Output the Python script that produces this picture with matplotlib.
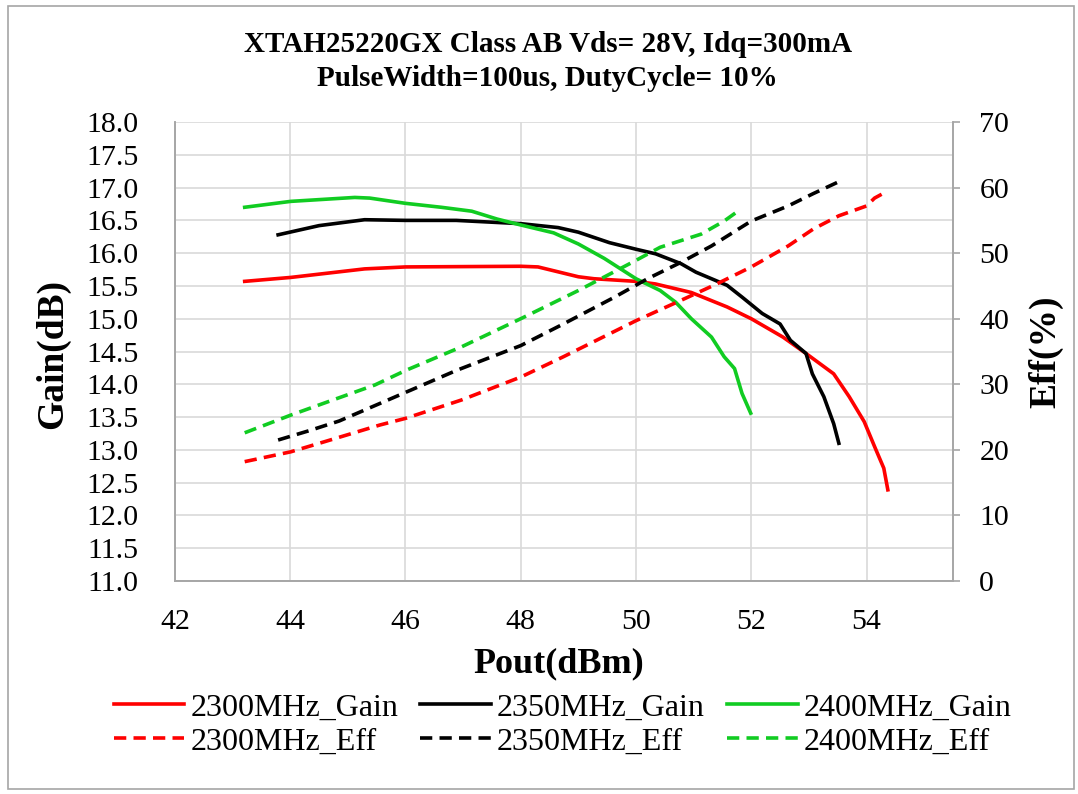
import matplotlib
matplotlib.use("Agg")
import matplotlib.pyplot as plt
from matplotlib.patches import Rectangle
import numpy as np

plt.rcParams['font.family'] = ['Liberation Serif', 'DejaVu Serif']

# gain curves (Pout dBm, Gain dB)
pout_2300_gain = [43.21, 44.01, 45.29, 46.0, 48.0, 48.3, 49.0, 49.27, 50.0, 50.34, 50.96, 51.58,
                  52.0, 52.55, 52.95, 53.43, 53.7, 53.96, 54.14, 54.30, 54.37]
gain_2300 = [15.57, 15.63, 15.76, 15.79, 15.80, 15.79, 15.64, 15.61, 15.57, 15.53, 15.40, 15.18,
             15.0, 14.72, 14.47, 14.16, 13.81, 13.43, 13.05, 12.72, 12.39]

pout_2350_gain = [43.79, 44.5, 45.29, 46.0, 46.88, 48.0, 48.65, 49.0, 49.54, 50.0, 50.34, 50.78,
                  51.04, 51.58, 51.84, 52.19, 52.5, 52.68, 52.95, 53.06, 53.26, 53.43, 53.52]
gain_2350 = [16.28, 16.42, 16.51, 16.50, 16.50, 16.45, 16.39, 16.32, 16.16, 16.06, 15.99, 15.84,
             15.71, 15.51, 15.33, 15.08, 14.92, 14.67, 14.47, 14.16, 13.81, 13.40, 13.10]

pout_2400_gain = [43.21, 44.01, 45.12, 45.38, 46.0, 46.62, 47.15, 47.59, 48.0, 48.57, 49.0, 49.45,
                  50.0, 50.42, 50.69, 50.96, 51.31, 51.53, 51.71, 51.84, 51.99]
gain_2400 = [16.70, 16.79, 16.85, 16.84, 16.76, 16.70, 16.64, 16.52, 16.43, 16.31, 16.14, 15.92,
             15.61, 15.43, 15.25, 15.0, 14.72, 14.42, 14.24, 13.86, 13.56]

# efficiency curves (Pout dBm, Eff %)
pout_2300_eff = [43.21, 44.01, 44.58, 45.56, 46.0, 46.97, 48.0, 48.74, 50.0, 50.78, 51.4, 52.0,
                 52.64, 53.08, 53.52, 54.0, 54.14, 54.37]
eff_2300 = [18.2, 19.7, 21.2, 23.8, 24.8, 27.6, 31.1, 34.2, 39.7, 42.8, 45.3, 47.9,
            51.1, 53.7, 55.7, 57.2, 58.4, 59.5]

pout_2350_eff = [43.79, 44.32, 44.85, 46.09, 46.88, 48.0, 48.74, 49.63, 50.2, 50.78, 51.31, 52.0,
                 52.64, 53.08, 53.52]
eff_2350 = [21.5, 22.9, 24.4, 29.1, 32.1, 35.9, 39.2, 43.3, 46.1, 48.6, 51.1, 54.9,
            57.2, 59.1, 60.9]

pout_2400_eff = [43.21, 44.01, 44.58, 45.47, 46.0, 46.97, 48.0, 49.0, 50.0, 50.42, 51.13, 51.53, 51.8]
eff_2400 = [22.6, 25.3, 27.1, 29.9, 32.1, 35.7, 40.0, 44.3, 48.9, 50.9, 52.9, 54.9, 56.6]

title1 = "XTAH25220GX Class AB Vds= 28V, Idq=300mA"
title2 = "PulseWidth=100us, DutyCycle= 10%"
red, black, green = '#ff0000', '#000000', '#11cc22'

fig = plt.figure(figsize=(10.78, 7.94), dpi=100)
ax = fig.add_axes([0.1623, 0.2683, 0.884 - 0.1623, 0.8463 - 0.2683])
ax2 = ax.twinx()

lw = 2.6
dash = (3.4, 2.0)
l1, = ax.plot(pout_2300_gain, gain_2300, color=red, lw=lw, label='2300MHz_Gain')
l2, = ax.plot(pout_2350_gain, gain_2350, color=black, lw=lw, label='2350MHz_Gain')
l3, = ax.plot(pout_2400_gain, gain_2400, color=green, lw=lw, label='2400MHz_Gain')
e1, = ax2.plot(pout_2300_eff, eff_2300, color=red, lw=lw, dashes=dash, label='2300MHz_Eff')
e2, = ax2.plot(pout_2350_eff, eff_2350, color=black, lw=lw, dashes=dash, label='2350MHz_Eff')
e3, = ax2.plot(pout_2400_eff, eff_2400, color=green, lw=lw, dashes=dash, label='2400MHz_Eff')

ax.set_xlim(42, 55.5)
ax.set_ylim(11, 18)
ax2.set_ylim(0, 70)
ax.set_xticks(np.arange(42, 55, 2))
ax.set_yticks(np.arange(11, 18.01, 0.5))
ax.set_yticklabels(["%.1f" % v for v in np.arange(11, 18.01, 0.5)])
ax2.set_yticks(np.arange(0, 71, 10))

ax.grid(True, color='#d9d9d9', lw=1.2)
ax.set_axisbelow(True)
for a in (ax, ax2):
    for s in a.spines.values():
        s.set_color('#a6a6a6')
        s.set_linewidth(1.2)
    a.spines['top'].set_visible(False)
ax.tick_params(axis='y', length=0, labelsize=21.5, pad=26)
ax.tick_params(axis='x', length=0, labelsize=21.5, pad=20)
ax2.tick_params(axis='y', length=5, width=1.2, color='#a6a6a6', labelsize=21.5, pad=14)

ax.set_xlabel("Pout(dBm)", fontsize=26, fontweight='bold', va='center')
ax.xaxis.set_label_coords(0.493, -0.181)
ax.set_ylabel("Gain(dB)", fontsize=27, fontweight='bold', va='center')
ax.yaxis.set_label_coords(-0.157, 0.495)
ax2.set_ylabel("Eff(%)", fontsize=27, fontweight='bold', va='center', rotation=90)
ax2.yaxis.set_label_coords(1.1195, 0.5)

fig.text(0.508, 1 - 45 / 794, title1, ha='center', va='center', fontsize=21, fontweight='bold')
fig.text(0.508, 1 - 78 / 794, title2, ha='center', va='center', fontsize=21, fontweight='bold')

handles = [l1, e1, l2, e2, l3, e3]
fig.legend(handles=handles, labels=[h.get_label() for h in handles], ncol=3,
           loc='center', bbox_to_anchor=(0.522, 0.087), frameon=False, fontsize=23,
           handlelength=2.2, handletextpad=0.2, columnspacing=0.7, labelspacing=0.15,
           borderpad=0)

fig.patches.append(Rectangle((0.007, 0.006), 0.989, 0.987, transform=fig.transFigure,
                             fill=False, edgecolor='#a6a6a6', lw=1.2))

fig.savefig("out.png", dpi=100)
